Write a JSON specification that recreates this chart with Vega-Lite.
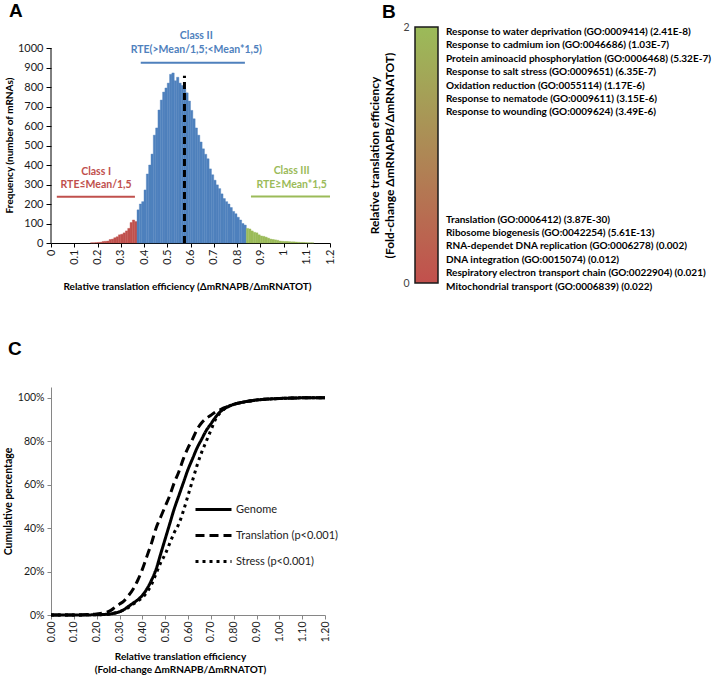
{
  "$schema": "https://vega.github.io/schema/vega-lite/v6.json",
  "background": "white",
  "padding": {"left": 3, "top": 2, "right": 2, "bottom": 2},
  "columns": 2,
  "align": "each",
  "bounds": "flush",
  "spacing": {"row": 104, "column": 85},
  "config": {
    "font": "Lato",
    "view": {"stroke": null},
    "axis": {"grid": false, "labelFont": "Lato", "titleFont": "Lato", "labelFontSize": 11, "titleFontSize": 11, "titleFontWeight": "bold", "labelColor": "#1a1a1a", "titleColor": "#000000", "tickColor": "#000000", "domainColor": "#000000"},
    "title": {"font": "Liberation Sans", "fontSize": 19, "fontWeight": "bold", "anchor": "start", "frame": "group", "color": "#000000", "baseline": "alphabetic"}
  },
  "datasets": {
    "hist": [
      {"start":0.17,"end":0.18,"count":1,"cls":"I"},
      {"start":0.18,"end":0.19,"count":1,"cls":"I"},
      {"start":0.19,"end":0.20,"count":2,"cls":"I"},
      {"start":0.20,"end":0.21,"count":3,"cls":"I"},
      {"start":0.21,"end":0.22,"count":4,"cls":"I"},
      {"start":0.22,"end":0.23,"count":8,"cls":"I"},
      {"start":0.23,"end":0.24,"count":9,"cls":"I"},
      {"start":0.24,"end":0.25,"count":10,"cls":"I"},
      {"start":0.25,"end":0.26,"count":18,"cls":"I"},
      {"start":0.26,"end":0.27,"count":20,"cls":"I"},
      {"start":0.27,"end":0.28,"count":27,"cls":"I"},
      {"start":0.28,"end":0.29,"count":32,"cls":"I"},
      {"start":0.29,"end":0.30,"count":42,"cls":"I"},
      {"start":0.30,"end":0.31,"count":45,"cls":"I"},
      {"start":0.31,"end":0.32,"count":52,"cls":"I"},
      {"start":0.32,"end":0.33,"count":62,"cls":"I"},
      {"start":0.33,"end":0.34,"count":75,"cls":"I"},
      {"start":0.34,"end":0.35,"count":105,"cls":"I"},
      {"start":0.35,"end":0.36,"count":118,"cls":"I"},
      {"start":0.36,"end":0.37,"count":110,"cls":"I"},
      {"start":0.37,"end":0.38,"count":170,"cls":"II"},
      {"start":0.38,"end":0.39,"count":200,"cls":"II"},
      {"start":0.39,"end":0.40,"count":212,"cls":"II"},
      {"start":0.40,"end":0.41,"count":272,"cls":"II"},
      {"start":0.41,"end":0.42,"count":354,"cls":"II"},
      {"start":0.42,"end":0.43,"count":400,"cls":"II"},
      {"start":0.43,"end":0.44,"count":456,"cls":"II"},
      {"start":0.44,"end":0.45,"count":553,"cls":"II"},
      {"start":0.45,"end":0.46,"count":590,"cls":"II"},
      {"start":0.46,"end":0.47,"count":682,"cls":"II"},
      {"start":0.47,"end":0.48,"count":733,"cls":"II"},
      {"start":0.48,"end":0.49,"count":774,"cls":"II"},
      {"start":0.49,"end":0.50,"count":795,"cls":"II"},
      {"start":0.50,"end":0.51,"count":820,"cls":"II"},
      {"start":0.51,"end":0.52,"count":865,"cls":"II"},
      {"start":0.52,"end":0.53,"count":872,"cls":"II"},
      {"start":0.53,"end":0.54,"count":832,"cls":"II"},
      {"start":0.54,"end":0.55,"count":850,"cls":"II"},
      {"start":0.55,"end":0.56,"count":820,"cls":"II"},
      {"start":0.56,"end":0.57,"count":808,"cls":"II"},
      {"start":0.57,"end":0.58,"count":790,"cls":"II"},
      {"start":0.58,"end":0.59,"count":770,"cls":"II"},
      {"start":0.59,"end":0.60,"count":728,"cls":"II"},
      {"start":0.60,"end":0.61,"count":680,"cls":"II"},
      {"start":0.61,"end":0.62,"count":637,"cls":"II"},
      {"start":0.62,"end":0.63,"count":590,"cls":"II"},
      {"start":0.63,"end":0.64,"count":553,"cls":"II"},
      {"start":0.64,"end":0.65,"count":518,"cls":"II"},
      {"start":0.65,"end":0.66,"count":483,"cls":"II"},
      {"start":0.66,"end":0.67,"count":455,"cls":"II"},
      {"start":0.67,"end":0.68,"count":432,"cls":"II"},
      {"start":0.68,"end":0.69,"count":380,"cls":"II"},
      {"start":0.69,"end":0.70,"count":350,"cls":"II"},
      {"start":0.70,"end":0.71,"count":322,"cls":"II"},
      {"start":0.71,"end":0.72,"count":298,"cls":"II"},
      {"start":0.72,"end":0.73,"count":279,"cls":"II"},
      {"start":0.73,"end":0.74,"count":252,"cls":"II"},
      {"start":0.74,"end":0.75,"count":228,"cls":"II"},
      {"start":0.75,"end":0.76,"count":212,"cls":"II"},
      {"start":0.76,"end":0.77,"count":200,"cls":"II"},
      {"start":0.77,"end":0.78,"count":182,"cls":"II"},
      {"start":0.78,"end":0.79,"count":162,"cls":"II"},
      {"start":0.79,"end":0.80,"count":150,"cls":"II"},
      {"start":0.80,"end":0.81,"count":132,"cls":"II"},
      {"start":0.81,"end":0.82,"count":118,"cls":"II"},
      {"start":0.82,"end":0.83,"count":100,"cls":"II"},
      {"start":0.83,"end":0.84,"count":92,"cls":"II"},
      {"start":0.84,"end":0.85,"count":75,"cls":"III"},
      {"start":0.85,"end":0.86,"count":72,"cls":"III"},
      {"start":0.86,"end":0.87,"count":62,"cls":"III"},
      {"start":0.87,"end":0.88,"count":55,"cls":"III"},
      {"start":0.88,"end":0.89,"count":52,"cls":"III"},
      {"start":0.89,"end":0.90,"count":42,"cls":"III"},
      {"start":0.90,"end":0.91,"count":36,"cls":"III"},
      {"start":0.91,"end":0.92,"count":34,"cls":"III"},
      {"start":0.92,"end":0.93,"count":30,"cls":"III"},
      {"start":0.93,"end":0.94,"count":25,"cls":"III"},
      {"start":0.94,"end":0.95,"count":20,"cls":"III"},
      {"start":0.95,"end":0.96,"count":18,"cls":"III"},
      {"start":0.96,"end":0.97,"count":16,"cls":"III"},
      {"start":0.97,"end":0.98,"count":14,"cls":"III"},
      {"start":0.98,"end":0.99,"count":10,"cls":"III"},
      {"start":0.99,"end":1.00,"count":9,"cls":"III"},
      {"start":1.00,"end":1.01,"count":8,"cls":"III"},
      {"start":1.01,"end":1.02,"count":8,"cls":"III"},
      {"start":1.02,"end":1.03,"count":7,"cls":"III"},
      {"start":1.03,"end":1.04,"count":6,"cls":"III"},
      {"start":1.04,"end":1.05,"count":6,"cls":"III"},
      {"start":1.05,"end":1.06,"count":5,"cls":"III"},
      {"start":1.06,"end":1.07,"count":4,"cls":"III"},
      {"start":1.07,"end":1.08,"count":3,"cls":"III"},
      {"start":1.08,"end":1.09,"count":3,"cls":"III"},
      {"start":1.09,"end":1.10,"count":2,"cls":"III"},
      {"start":1.10,"end":1.11,"count":1,"cls":"III"},
      {"start":1.11,"end":1.12,"count":1,"cls":"III"},
      {"start":1.12,"end":1.13,"count":1,"cls":"III"}
    ],
    "classRanges": [
      {"cls":"I","from":0.025,"to":0.361,"level":237},
      {"cls":"II","from":0.386,"to":0.834,"level":925},
      {"cls":"III","from":0.86,"to":1.2,"level":239}
    ],
    "classText": [
      {"cls":"I","label":"Class I","pos":0.194,"level":362},
      {"cls":"I","label":"RTE≤Mean/1,5","pos":0.194,"level":296},
      {"cls":"II","label":"Class II","pos":0.625,"level":1061},
      {"cls":"II","label":"RTE(>Mean/1,5;<Mean*1,5)","pos":0.625,"level":990},
      {"cls":"III","label":"Class III","pos":1.035,"level":367},
      {"cls":"III","label":"RTE≥Mean*1,5","pos":1.035,"level":296}
    ],
    "go": [
      {"row":0,"term":"Response to water deprivation (GO:0009414) (2.41E-8)"},
      {"row":1,"term":"Response to cadmium ion (GO:0046686) (1.03E-7)"},
      {"row":2,"term":"Protein aminoacid phosphorylation (GO:0006468) (5.32E-7)"},
      {"row":3,"term":"Response to salt stress (GO:0009651) (6.35E-7)"},
      {"row":4,"term":"Oxidation reduction (GO:0055114) (1.17E-6)"},
      {"row":5,"term":"Response to nematode (GO:0009611) (3.15E-6)"},
      {"row":6,"term":"Response to wounding (GO:0009624) (3.49E-6)"},
      {"row":14,"term":"Translation  (GO:0006412) (3.87E-30)"},
      {"row":15,"term":"Ribosome biogenesis  (GO:0042254) (5.61E-13)"},
      {"row":16,"term":"RNA-dependet DNA replication  (GO:0006278) (0.002)"},
      {"row":17,"term":"DNA integration  (GO:0015074) (0.012)"},
      {"row":18,"term":"Respiratory electron transport chain  (GO:0022904) (0.021)"},
      {"row":19,"term":"Mitochondrial transport  (GO:0006839) (0.022)"}
    ],
    "cdf": [
      {"x":0.00,"p":0,"s":"Genome"},{"x":0.10,"p":0,"s":"Genome"},{"x":0.20,"p":0.001,"s":"Genome"},{"x":0.24,"p":0.003,"s":"Genome"},{"x":0.26,"p":0.005,"s":"Genome"},{"x":0.28,"p":0.009,"s":"Genome"},{"x":0.30,"p":0.015,"s":"Genome"},{"x":0.32,"p":0.025,"s":"Genome"},{"x":0.34,"p":0.04,"s":"Genome"},{"x":0.36,"p":0.055,"s":"Genome"},{"x":0.38,"p":0.07,"s":"Genome"},{"x":0.40,"p":0.09,"s":"Genome"},{"x":0.42,"p":0.12,"s":"Genome"},{"x":0.44,"p":0.16,"s":"Genome"},{"x":0.46,"p":0.21,"s":"Genome"},{"x":0.48,"p":0.28,"s":"Genome"},{"x":0.50,"p":0.35,"s":"Genome"},{"x":0.52,"p":0.42,"s":"Genome"},{"x":0.54,"p":0.49,"s":"Genome"},{"x":0.56,"p":0.55,"s":"Genome"},{"x":0.58,"p":0.61,"s":"Genome"},{"x":0.60,"p":0.67,"s":"Genome"},{"x":0.62,"p":0.72,"s":"Genome"},{"x":0.64,"p":0.77,"s":"Genome"},{"x":0.66,"p":0.81,"s":"Genome"},{"x":0.68,"p":0.85,"s":"Genome"},{"x":0.70,"p":0.88,"s":"Genome"},{"x":0.72,"p":0.91,"s":"Genome"},{"x":0.74,"p":0.935,"s":"Genome"},{"x":0.76,"p":0.95,"s":"Genome"},{"x":0.80,"p":0.97,"s":"Genome"},{"x":0.84,"p":0.98,"s":"Genome"},{"x":0.90,"p":0.99,"s":"Genome"},{"x":1.00,"p":0.997,"s":"Genome"},{"x":1.10,"p":1.0,"s":"Genome"},{"x":1.20,"p":1.0,"s":"Genome"},
      {"x":0.00,"p":0,"s":"Translation (p<0.001)"},{"x":0.10,"p":0,"s":"Translation (p<0.001)"},{"x":0.16,"p":0.002,"s":"Translation (p<0.001)"},{"x":0.20,"p":0.005,"s":"Translation (p<0.001)"},{"x":0.24,"p":0.012,"s":"Translation (p<0.001)"},{"x":0.26,"p":0.02,"s":"Translation (p<0.001)"},{"x":0.28,"p":0.035,"s":"Translation (p<0.001)"},{"x":0.30,"p":0.05,"s":"Translation (p<0.001)"},{"x":0.32,"p":0.065,"s":"Translation (p<0.001)"},{"x":0.34,"p":0.09,"s":"Translation (p<0.001)"},{"x":0.36,"p":0.12,"s":"Translation (p<0.001)"},{"x":0.38,"p":0.16,"s":"Translation (p<0.001)"},{"x":0.40,"p":0.21,"s":"Translation (p<0.001)"},{"x":0.42,"p":0.27,"s":"Translation (p<0.001)"},{"x":0.44,"p":0.33,"s":"Translation (p<0.001)"},{"x":0.46,"p":0.40,"s":"Translation (p<0.001)"},{"x":0.48,"p":0.45,"s":"Translation (p<0.001)"},{"x":0.50,"p":0.50,"s":"Translation (p<0.001)"},{"x":0.52,"p":0.55,"s":"Translation (p<0.001)"},{"x":0.54,"p":0.61,"s":"Translation (p<0.001)"},{"x":0.56,"p":0.66,"s":"Translation (p<0.001)"},{"x":0.58,"p":0.72,"s":"Translation (p<0.001)"},{"x":0.60,"p":0.77,"s":"Translation (p<0.001)"},{"x":0.62,"p":0.81,"s":"Translation (p<0.001)"},{"x":0.64,"p":0.855,"s":"Translation (p<0.001)"},{"x":0.66,"p":0.885,"s":"Translation (p<0.001)"},{"x":0.68,"p":0.905,"s":"Translation (p<0.001)"},{"x":0.70,"p":0.92,"s":"Translation (p<0.001)"},{"x":0.72,"p":0.935,"s":"Translation (p<0.001)"},{"x":0.74,"p":0.945,"s":"Translation (p<0.001)"},{"x":0.76,"p":0.955,"s":"Translation (p<0.001)"},{"x":0.80,"p":0.97,"s":"Translation (p<0.001)"},{"x":0.84,"p":0.98,"s":"Translation (p<0.001)"},{"x":0.90,"p":0.99,"s":"Translation (p<0.001)"},{"x":1.00,"p":0.997,"s":"Translation (p<0.001)"},{"x":1.10,"p":1.0,"s":"Translation (p<0.001)"},{"x":1.20,"p":1.0,"s":"Translation (p<0.001)"},
      {"x":0.00,"p":0,"s":"Stress (p<0.001)"},{"x":0.20,"p":0.001,"s":"Stress (p<0.001)"},{"x":0.26,"p":0.005,"s":"Stress (p<0.001)"},{"x":0.30,"p":0.015,"s":"Stress (p<0.001)"},{"x":0.34,"p":0.035,"s":"Stress (p<0.001)"},{"x":0.36,"p":0.05,"s":"Stress (p<0.001)"},{"x":0.38,"p":0.065,"s":"Stress (p<0.001)"},{"x":0.40,"p":0.08,"s":"Stress (p<0.001)"},{"x":0.42,"p":0.105,"s":"Stress (p<0.001)"},{"x":0.44,"p":0.14,"s":"Stress (p<0.001)"},{"x":0.46,"p":0.19,"s":"Stress (p<0.001)"},{"x":0.48,"p":0.24,"s":"Stress (p<0.001)"},{"x":0.50,"p":0.28,"s":"Stress (p<0.001)"},{"x":0.52,"p":0.33,"s":"Stress (p<0.001)"},{"x":0.54,"p":0.38,"s":"Stress (p<0.001)"},{"x":0.56,"p":0.42,"s":"Stress (p<0.001)"},{"x":0.58,"p":0.48,"s":"Stress (p<0.001)"},{"x":0.60,"p":0.55,"s":"Stress (p<0.001)"},{"x":0.62,"p":0.62,"s":"Stress (p<0.001)"},{"x":0.64,"p":0.69,"s":"Stress (p<0.001)"},{"x":0.66,"p":0.75,"s":"Stress (p<0.001)"},{"x":0.68,"p":0.80,"s":"Stress (p<0.001)"},{"x":0.70,"p":0.85,"s":"Stress (p<0.001)"},{"x":0.72,"p":0.90,"s":"Stress (p<0.001)"},{"x":0.74,"p":0.93,"s":"Stress (p<0.001)"},{"x":0.76,"p":0.95,"s":"Stress (p<0.001)"},{"x":0.80,"p":0.97,"s":"Stress (p<0.001)"},{"x":0.84,"p":0.98,"s":"Stress (p<0.001)"},{"x":0.90,"p":0.99,"s":"Stress (p<0.001)"},{"x":1.00,"p":0.997,"s":"Stress (p<0.001)"},{"x":1.10,"p":1.0,"s":"Stress (p<0.001)"},{"x":1.20,"p":1.0,"s":"Stress (p<0.001)"}
    ]
  },
  "concat": [
    {
      "width": 279,
      "height": 216,
      "title": {"text": "A", "dx": -42, "offset": 6},
      "layer": [
        {
          "data": {"name": "hist"},
          "mark": {"type": "rect", "strokeWidth": 0.4},
          "encoding": {
            "x": {"field": "start", "type": "quantitative", "scale": {"domain": [0, 1.2], "nice": false, "zero": false},
              "axis": {"values": [0,0.1,0.2,0.3,0.4,0.5,0.6,0.7,0.8,0.9,1,1.1,1.2], "format": "~g", "labelAngle": -90, "labelOverlap": false, "tickSize": 4, "labelPadding": 2, "title": "Relative translation efficiency (ΔmRNAPB/ΔmRNATOT)", "titleY": 38, "titleX": 136, "titleFontSize": 10}},
            "x2": {"field": "end"},
            "y": {"field": "count", "type": "quantitative", "scale": {"domain": [0, 1107.7], "nice": false},
              "axis": {"values": [0,100,200,300,400,500,600,700,800,900,1000], "format": "d", "labelOverlap": false, "domain": false, "tickSize": 5, "labelPadding": 3, "title": "Frequency (number of mRNAs)", "titleX": -37, "titleY": 118, "titleFontSize": 10}},
            "y2": {"datum": 0},
            "color": {"field": "cls", "type": "nominal", "scale": {"domain": ["I","II","III"], "range": ["#c0504d","#4f81bd","#9bbb59"]}, "legend": null},
            "stroke": {"field": "cls", "type": "nominal", "scale": {"domain": ["I","II","III"], "range": ["#c0504d","#4f81bd","#9bbb59"]}, "legend": null}
          }
        },
        {
          "data": {"values": [{"axisFrom": 0, "axisTo": 1000, "axisAt": 0}]},
          "mark": {"type": "rule", "color": "#000000", "strokeWidth": 1},
          "encoding": {
            "x": {"field": "axisAt", "type": "quantitative",
              "axis": {"values": [0,0.1,0.2,0.3,0.4,0.5,0.6,0.7,0.8,0.9,1,1.1,1.2], "format": "~g", "labelAngle": -90, "labelOverlap": false, "tickSize": 4, "labelPadding": 2, "title": "Relative translation efficiency (ΔmRNAPB/ΔmRNATOT)", "titleY": 38, "titleX": 136, "titleFontSize": 10}},
            "y": {"field": "axisFrom", "type": "quantitative",
              "axis": {"values": [0,100,200,300,400,500,600,700,800,900,1000], "format": "d", "labelOverlap": false, "domain": false, "tickSize": 5, "labelPadding": 3, "title": "Frequency (number of mRNAs)", "titleX": -37, "titleY": 118, "titleFontSize": 10}},
            "y2": {"field": "axisTo"}
          }
        },
        {
          "data": {"values": [{"mean": 0.574, "base": 0, "top": 858}]},
          "mark": {"type": "rule", "color": "#000000", "strokeWidth": 3, "strokeDash": [7, 4]},
          "encoding": {
            "x": {"field": "mean", "type": "quantitative",
              "axis": {"values": [0,0.1,0.2,0.3,0.4,0.5,0.6,0.7,0.8,0.9,1,1.1,1.2], "format": "~g", "labelAngle": -90, "labelOverlap": false, "tickSize": 4, "labelPadding": 2, "title": "Relative translation efficiency (ΔmRNAPB/ΔmRNATOT)", "titleY": 38, "titleX": 136, "titleFontSize": 10}},
            "y": {"field": "base", "type": "quantitative",
              "axis": {"values": [0,100,200,300,400,500,600,700,800,900,1000], "format": "d", "labelOverlap": false, "domain": false, "tickSize": 5, "labelPadding": 3, "title": "Frequency (number of mRNAs)", "titleX": -37, "titleY": 118, "titleFontSize": 10}},
            "y2": {"field": "top"}
          }
        },
        {
          "data": {"name": "classRanges"},
          "mark": {"type": "rule", "strokeWidth": 2},
          "encoding": {
            "x": {"field": "from", "type": "quantitative",
              "axis": {"values": [0,0.1,0.2,0.3,0.4,0.5,0.6,0.7,0.8,0.9,1,1.1,1.2], "format": "~g", "labelAngle": -90, "labelOverlap": false, "tickSize": 4, "labelPadding": 2, "title": "Relative translation efficiency (ΔmRNAPB/ΔmRNATOT)", "titleY": 38, "titleX": 136, "titleFontSize": 10}},
            "x2": {"field": "to"},
            "y": {"field": "level", "type": "quantitative",
              "axis": {"values": [0,100,200,300,400,500,600,700,800,900,1000], "format": "d", "labelOverlap": false, "domain": false, "tickSize": 5, "labelPadding": 3, "title": "Frequency (number of mRNAs)", "titleX": -37, "titleY": 118, "titleFontSize": 10}},
            "color": {"field": "cls", "type": "nominal", "scale": {"domain": ["I","II","III"], "range": ["#c0504d","#4f81bd","#9bbb59"]}, "legend": null}
          }
        },
        {
          "data": {"name": "classText"},
          "mark": {"type": "text", "fontWeight": "bold", "fontSize": 10.5, "font": "Lato", "baseline": "middle", "align": "center"},
          "encoding": {
            "x": {"field": "pos", "type": "quantitative",
              "axis": {"values": [0,0.1,0.2,0.3,0.4,0.5,0.6,0.7,0.8,0.9,1,1.1,1.2], "format": "~g", "labelAngle": -90, "labelOverlap": false, "tickSize": 4, "labelPadding": 2, "title": "Relative translation efficiency (ΔmRNAPB/ΔmRNATOT)", "titleY": 38, "titleX": 136, "titleFontSize": 10}},
            "y": {"field": "level", "type": "quantitative",
              "axis": {"values": [0,100,200,300,400,500,600,700,800,900,1000], "format": "d", "labelOverlap": false, "domain": false, "tickSize": 5, "labelPadding": 3, "title": "Frequency (number of mRNAs)", "titleX": -37, "titleY": 118, "titleFontSize": 10}},
            "text": {"field": "label"},
            "color": {"field": "cls", "type": "nominal", "scale": {"domain": ["I","II","III"], "range": ["#c0504d","#4f81bd","#9bbb59"]}, "legend": null}
          }
        }
      ]
    },
    {
      "width": 23,
      "height": 256,
      "title": {"text": "B", "dx": -33, "offset": 0},
      "layer": [
        {
          "data": {"values": [{"low": 0, "high": 2, "left": 0, "right": 1}]},
          "mark": {"type": "rect", "stroke": "#1a1a1a", "strokeWidth": 1.5,
            "fill": {"gradient": "linear", "x1": 0, "y1": 1, "x2": 0, "y2": 0, "stops": [{"offset": 0, "color": "#c2504d"}, {"offset": 0.5, "color": "#ae8755"}, {"offset": 1, "color": "#9bbb59"}]}},
          "encoding": {
            "x": {"field": "left", "type": "quantitative", "scale": {"domain": [0, 1], "nice": false}, "axis": null},
            "x2": {"field": "right"},
            "y": {"field": "low", "type": "quantitative", "scale": {"domain": [0, 2], "nice": false},
              "axis": {"values": [0, 1, 2], "format": "d", "domain": false, "ticks": false, "tickSize": 0, "labelPadding": 6, "labelFontSize": 10.5, "labelColor": "#444444",
                "title": ["Relative translation efficiency", "(Fold-change ΔmRNAPB/ΔmRNATOT)"], "titleFontSize": 12, "titleLineHeight": 15, "titleX": -34}},
            "y2": {"field": "high"}
          }
        },
        {
          "data": {"name": "go"},
          "mark": {"type": "text", "align": "left", "baseline": "middle", "dx": 19.5, "fontWeight": "bold", "fontSize": 10, "font": "Lato", "color": "#000000"},
          "encoding": {
            "y": {"field": "row", "type": "quantitative", "scale": {"domain": [-0.373, 18.73], "reverse": true, "nice": false, "zero": false}, "axis": null},
            "text": {"field": "term"}
          }
        }
      ],
      "resolve": {"scale": {"y": "independent"}, "axis": {"y": "independent"}}
    },
    {
      "width": 274,
      "height": 228,
      "title": {"text": "C", "dx": -43, "offset": 28},
      "data": {"name": "cdf"},
      "mark": {"type": "line", "strokeWidth": 3, "color": "#000000", "interpolate": "monotone"},
      "encoding": {
        "x": {"field": "x", "type": "quantitative", "scale": {"domain": [0, 1.2], "nice": false},
          "axis": {"values": [0,0.1,0.2,0.3,0.4,0.5,0.6,0.7,0.8,0.9,1,1.1,1.2], "format": ".2f", "labelAngle": -90, "labelOverlap": false, "domainColor": "#868686", "tickColor": "#868686", "tickSize": 4, "labelPadding": 2, "labelFontSize": 10.5,
            "title": ["Relative translation efficiency", "(Fold-change ΔmRNAPB/ΔmRNATOT)"], "titleY": 36, "titleX": 129, "titleLineHeight": 13, "titleFontSize": 10}},
        "y": {"field": "p", "type": "quantitative", "scale": {"domain": [0, 1.05], "nice": false},
          "axis": {"values": [0,0.2,0.4,0.6,0.8,1], "format": ".0%", "domainColor": "#868686", "tickColor": "#868686", "tickSize": 4, "labelPadding": 3, "labelFontSize": 10.5, "title": "Cumulative percentage", "titleX": -38, "titleFontSize": 10.5}},
        "strokeDash": {"field": "s", "type": "nominal",
          "scale": {"domain": ["Genome", "Translation (p<0.001)", "Stress (p<0.001)"], "range": [[1, 0], [9, 5], [3, 4]]},
          "legend": {"title": null, "orient": "none", "legendX": 143, "legendY": 463, "symbolType": "stroke", "symbolSize": 1296, "symbolStrokeWidth": 3, "symbolStrokeColor": "#000000", "labelFont": "Lato", "labelFontSize": 11, "labelColor": "#222222", "rowPadding": -10, "labelOffset": 3}}
      }
    }
  ]
}
